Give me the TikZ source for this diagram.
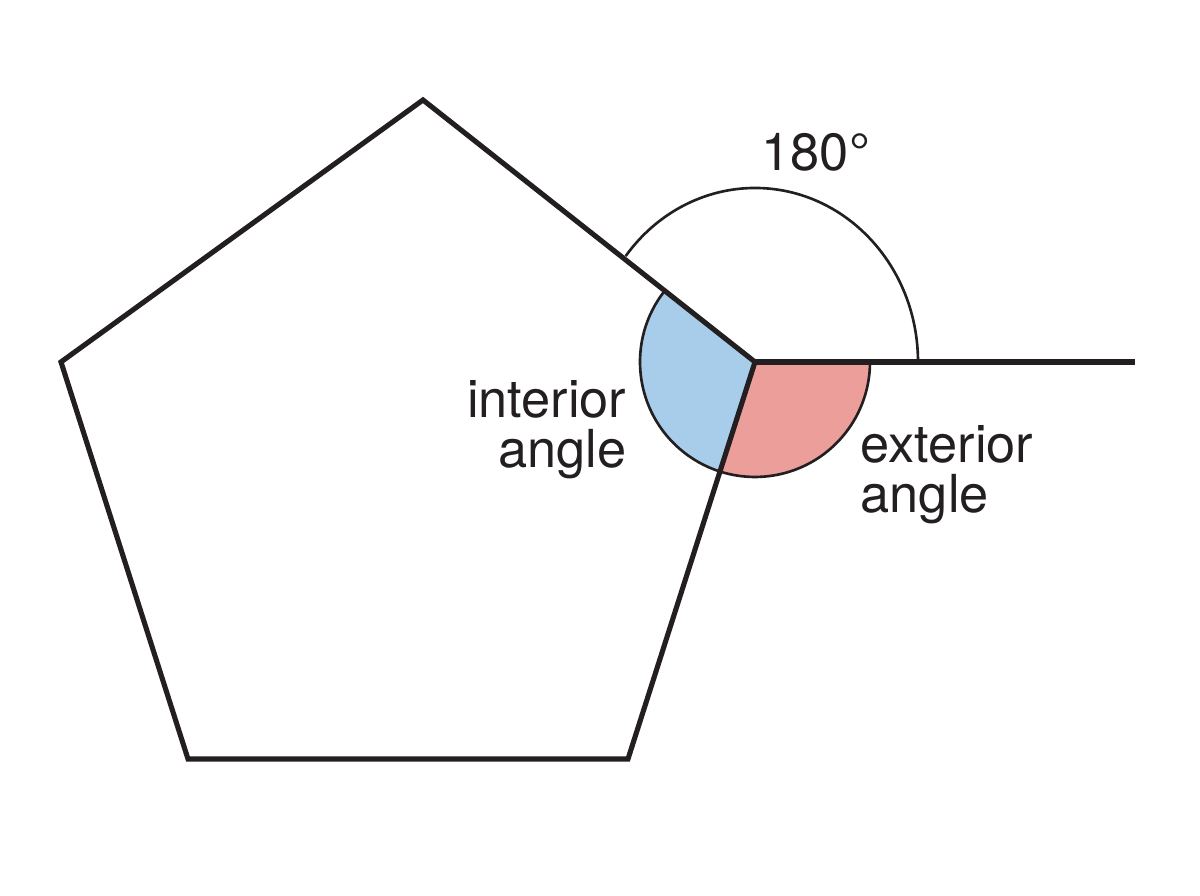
\documentclass[tikz,border=0pt]{standalone}
\usepackage{fontspec}
\setmainfont{TeX Gyre Heros}
\usetikzlibrary{positioning}
\definecolor{inblue}{RGB}{167,205,234}
\definecolor{exred}{RGB}{236,158,155}
\definecolor{ink}{RGB}{35,31,32}

\begin{document}
\begin{tikzpicture}[
    side/.style={draw=ink, line width=1.45pt},
    thinarc/.style={draw=ink, line width=0.75pt},
    lbl/.style={inner sep=0pt, text=ink, font=\fontsize{14.9pt}{14.1pt}\selectfont}
  ]
      \useasboundingbox (0,0) rectangle (12,8.96);

      % Define the corners of the pentagon
      \coordinate (top) at (4.23, 7.96);
      \coordinate (left) at (0.61, 5.34);
      \coordinate (bl) at (1.88, 1.37);
      \coordinate (br) at (6.28, 1.37);
      \coordinate (v) at (7.55, 5.34);
      \coordinate (end) at (11.35, 5.34);

      % Fill the interior and the exterior angle
      \fill[inblue] (v) -- ([shift={(141.7:1.15)}]v) arc[start angle=141.7, end angle=252.3, radius=1.15] -- cycle;
      \fill[exred] (v) -- ([shift={(252.3:1.15)}]v) arc[start angle=252.3, end angle=360, radius=1.15] -- cycle;
      \draw[thinarc] ([shift={(141.7:1.15)}]v) arc[start angle=141.7, end angle=360, radius=1.15];

      % Draw the arc of the straight angle
      \draw[thinarc] ([shift={(0:1.63)}]v) arc[start angle=0, end angle=142.5, x radius=1.63, y radius=1.74];

      % Draw the pentagon and the extended side
      \draw[side] (top) -- (left) -- (bl) -- (br) -- (v) -- cycle;
      \draw[side] (v) -- (end);

      % Define the labels
      \node[lbl, anchor=base west] (deg) at (7.61, 7.253) {180°};
      \node[lbl, anchor=north east, align=right] (inner) at (6.27, 5.16) {interior\\angle};
      \node[lbl, anchor=north west, align=left] (outer) at (8.60, 4.71) {exterior\\angle};
\end{tikzpicture}
\end{document}
